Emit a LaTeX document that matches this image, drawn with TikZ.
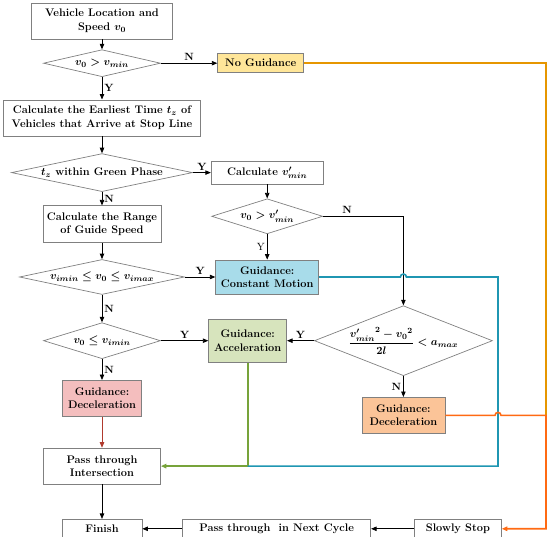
\documentclass[tikz,border=0pt]{standalone}
\usepackage{amsmath,amssymb}
\usepackage{xcolor}
\usepackage{tikz}
\usetikzlibrary{shapes.geometric, arrows.meta, positioning, calc}

\definecolor{nogfill}{RGB}{255,230,153}
\definecolor{cmfill}{RGB}{168,220,234}
\definecolor{accfill}{RGB}{215,228,189}
\definecolor{decrfill}{RGB}{244,190,190}
\definecolor{decofill}{RGB}{251,196,152}
\definecolor{tealline}{RGB}{31,150,178}
\definecolor{grnline}{RGB}{119,163,58}
\definecolor{redline}{RGB}{176,58,46}
\definecolor{orgline}{RGB}{255,106,19}
\definecolor{goldline}{RGB}{230,150,0}

\begin{document}
\begin{tikzpicture}[
  box/.style={draw=gray, line width=0.7pt, align=center, font=\bfseries\boldmath\fontsize{11}{13.5}\selectfont, inner sep=2pt},
  dec/.style={diamond, draw=gray, line width=0.7pt, align=center, font=\bfseries\boldmath\fontsize{11}{13.5}\selectfont, inner sep=-2pt},
  lbl/.style={font=\bfseries\fontsize{10.5}{12}\selectfont, inner sep=2pt},
  arrow/.style={-{Triangle[length=5.5pt, width=4.4pt]}, line width=0.8pt, draw=black},
  bus/.style={line width=1.6pt}
]
  \useasboundingbox (0,0) rectangle (550pt,-537pt);

  % Main column (Left)
  \node[box, minimum width=141pt, minimum height=36pt] (veh) at (102pt,-21pt) {Vehicle Location and\\Speed $v_0$};
  \node[dec, below=10pt of veh, minimum width=117pt, minimum height=27pt, aspect=4.3] (d1) {$v_0>v_{min}$};
  \node[box, below=22.5pt of d1, minimum width=197pt, minimum height=36pt] (earl) {Calculate the Earliest Time $t_z$ of\\Vehicles that Arrive at Stop Line};
  \node[dec, below=17pt of earl, minimum width=181pt, minimum height=38pt, aspect=4.8] (d2) {$t_z$ within Green Phase};
  \node[box, below=13.5pt of d2, minimum width=118pt, minimum height=37pt] (rng) {Calculate the Range\\of Guide Speed};
  \node[dec, below=16pt of rng, minimum width=165pt, minimum height=35pt, aspect=4.7] (d4) {$v_{imin}\le v_0\le v_{imax}$};
  \node[dec, below=27.5pt of d4, minimum width=117pt, minimum height=36pt, aspect=3.25] (d5) {$v_0\le v_{imin}$};
  \node[box, fill=decrfill, below=21pt of d5, minimum width=79pt, minimum height=36pt] (decr) {Guidance:\\Deceleration};
  \node[box, below=31pt of decr, minimum width=117pt, minimum height=36pt] (pass) {Pass through\\Intersection};
  \node[box, below=34.5pt of pass, minimum width=80pt, minimum height=19pt] (fin) {Finish};

  % Right branches
  \node[box, fill=nogfill, right=56.5pt of d1, minimum width=86pt, minimum height=19pt] (nog) {No Guidance};
  \node[box, right=18pt of d2, minimum width=112pt, minimum height=23pt] (cvmin) {Calculate $v^{\prime}_{min}$};
  \node[dec, below=14pt of cvmin, minimum width=111pt, minimum height=35pt, aspect=3.2] (d3) {$v_0>v^{\prime}_{min}$};
  \node[box, fill=cmfill, right=30.5pt of d4, minimum width=103pt, minimum height=34pt] (const) {Guidance:\\Constant Motion};
  \node[box, fill=accfill, right=47.5pt of d5, minimum width=78pt, minimum height=43pt] (accel) {Guidance:\\Acceleration};
  \node[dec, right=27pt of accel, minimum width=178pt, minimum height=70pt, aspect=2.54, inner sep=-5pt] (d6) {$\dfrac{{v^{\prime}_{min}}^{2}-{v_0}^{2}}{2l}<a_{max}$};
  \node[box, fill=decofill, below=21pt of d6, minimum width=83pt, minimum height=36pt] (deco) {Guidance:\\Deceleration};
  \node[box, right=40pt of fin, minimum width=188pt, minimum height=19pt] (next) {Pass through~ in Next Cycle};
  \node[box, right=43pt of next, minimum width=87pt, minimum height=19pt] (slow) {Slowly Stop};

  \coordinate (tbus) at (498pt,-274pt);
  \coordinate (obus) at (546pt,-63pt);

  % Decisions
  \draw[arrow] (veh) -- (d1);
  \draw[arrow] (d1) -- node[lbl, right] {Y} (earl);
  \draw[arrow] (d1) -- node[lbl, above] {N} (nog);
  \draw[arrow] (earl) -- (d2);
  \draw[arrow] (d2.east) -- node[lbl, above] {Y} (d2.east -| cvmin.west);
  \draw[arrow] (d2) -- node[lbl, right] {N} (rng);
  \draw[arrow] (cvmin) -- (d3);
  \draw[arrow] (d3.south) -- node[lbl, left, font=\fontsize{10.5}{12}\selectfont] {Y} (d3.south |- const.north);
  \draw[arrow] (d3.east) -| node[lbl, above, pos=0.15] {N} (d6.north);
  \draw[arrow] (rng) -- (d4);
  \draw[arrow] (d4) -- node[lbl, above] {Y} (const);
  \draw[arrow] (d4) -- node[lbl, right] {N} (d5);
  \draw[arrow] (d5) -- node[lbl, above] {Y} (accel);
  \draw[arrow] (d6) -- node[lbl, above] {Y} (accel);
  \draw[arrow] (d5) -- node[lbl, right] {N} (decr);
  \draw[arrow] (d6) -- node[lbl, left] {N} (deco);

  % Outcomes
  \draw[arrow, color=redline] (decr) -- (pass);
  \draw[arrow] (pass) -- (fin);
  \draw[arrow] (slow) -- (next);
  \draw[arrow] (next) -- (fin);
  \draw[arrow, bus, color=grnline] (accel.south) |- (pass.east);
  \draw[bus, color=tealline] (const.east) -- ($(const.east -| d6.north)+(-3pt,0)$) arc[start angle=180, end angle=0, radius=3pt] -- (const.east -| tbus) -- (tbus |- pass.east) -- (accel.south |- pass.east);
  \draw[bus, color=goldline] (nog.east) -| (deco.east -| obus);
  \draw[arrow, bus, color=orgline] (deco.east) -- ($(deco.east -| tbus)+(-3pt,0)$) arc[start angle=180, end angle=0, radius=3pt] -- (deco.east -| obus) |- (slow.east);

\end{tikzpicture}
\end{document}
